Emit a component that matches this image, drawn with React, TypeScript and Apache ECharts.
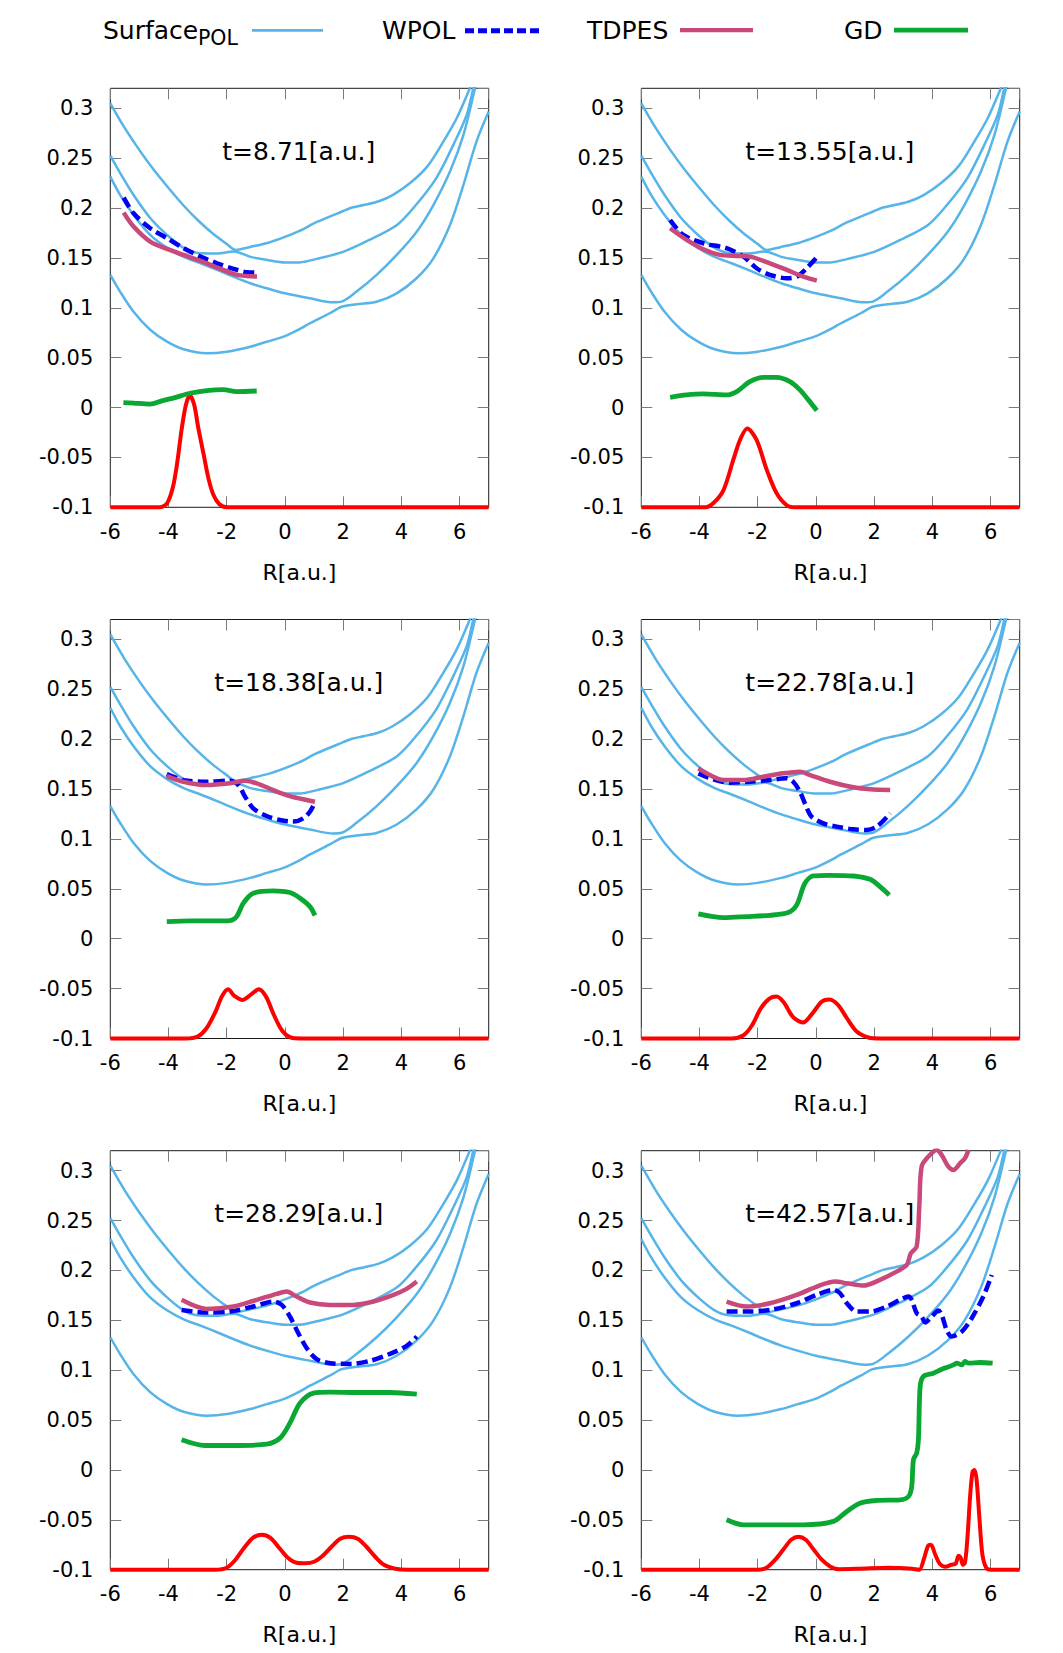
import React, { useEffect, useRef } from "react";
import * as echarts from "echarts";

type Pt = [number, number];

// ---------- tick / label data ----------
const xTickValues = [-6, -4, -2, 0, 2, 4, 6];
const yTickValues = [-0.1, -0.05, 0, 0.05, 0.1, 0.15, 0.2, 0.25, 0.3];
const panelTimes = [
  "t=8.71[a.u.]",
  "t=13.55[a.u.]",
  "t=18.38[a.u.]",
  "t=22.78[a.u.]",
  "t=28.29[a.u.]",
  "t=42.57[a.u.]",
];
const legendNames = ["Surface", "WPOL", "TDPES", "GD"];
const legendSub = "POL";
const xAxisTitle = "R[a.u.]";

// ---------- polaritonic surfaces (same in every panel) ----------
const surfaceA: Pt[] = [
  [-6, 0.305], [-5.5, 0.28], [-5, 0.258], [-4.5, 0.238], [-4, 0.22], [-3.5, 0.203],
  [-3, 0.188], [-2.5, 0.175], [-2, 0.164], [-1.7, 0.158], [-1.2, 0.161], [-0.6, 0.165],
  [0, 0.171], [0.5, 0.177], [1.1, 0.186], [2.0, 0.197], [2.3, 0.2005], [2.7, 0.203],
  [3.2, 0.2065], [3.7, 0.213], [4.3, 0.225], [4.9, 0.242], [5.45, 0.267], [5.9, 0.29],
  [6.35, 0.32], [6.5, 0.332],
];
const surfaceB: Pt[] = [
  [-6, 0.2525], [-5.66, 0.235], [-5.2, 0.213], [-4.63, 0.19], [-4.05, 0.173], [-3.48, 0.16],
  [-3.0, 0.155], [-2.33, 0.1545], [-1.75, 0.1565], [-1.19, 0.151], [-0.62, 0.148], [0, 0.1455],
  [0.5, 0.1455], [1.09, 0.149], [2.0, 0.156], [2.9, 0.168], [3.85, 0.183], [4.5, 0.203],
  [5.2, 0.23], [5.78, 0.263], [6.24, 0.293], [6.47, 0.32], [6.6, 0.335],
];
const surfaceC: Pt[] = [
  [-6, 0.2315], [-5.66, 0.213], [-5.2, 0.193], [-4.63, 0.173], [-4.05, 0.16], [-3.48, 0.151],
  [-2.9, 0.1446], [-2.33, 0.138], [-1.76, 0.131], [-1.19, 0.1246], [-0.62, 0.1195], [0, 0.1145],
  [0.86, 0.1095], [1.66, 0.1055], [1.95, 0.1062], [2.46, 0.1162], [3.15, 0.133], [3.84, 0.153],
  [4.52, 0.176], [5.1, 0.203], [5.67, 0.2365], [6.13, 0.273], [6.53, 0.32], [6.65, 0.335],
];
const surfaceD: Pt[] = [
  [-6, 0.133], [-5.66, 0.116], [-5.2, 0.096], [-4.63, 0.078], [-4.05, 0.066], [-3.48, 0.0584],
  [-2.68, 0.0544], [-2.0, 0.056], [-1.19, 0.061], [-0.62, 0.066], [0, 0.0715], [0.53, 0.079],
  [0.86, 0.0845], [1.54, 0.0945], [1.95, 0.101], [2.46, 0.1035], [3.15, 0.106], [3.84, 0.1145],
  [4.52, 0.1296], [5.1, 0.1496], [5.67, 0.183], [6.13, 0.223], [6.58, 0.2666], [7.0, 0.2967],
];

// ---------- panel 1 : t=8.71 ----------
const wpol1: Pt[] = [
  [-5.54, 0.2104], [-5.2, 0.1947], [-4.63, 0.1797], [-4.05, 0.1697], [-3.48, 0.1597],
  [-2.9, 0.1513], [-2.33, 0.1446], [-1.76, 0.139], [-1.3, 0.1356], [-0.96, 0.1353],
];
const tdpes1: Pt[] = [
  [-5.54, 0.1954], [-5.2, 0.1814], [-4.63, 0.1663], [-4.05, 0.159], [-3.48, 0.153],
  [-2.9, 0.147], [-2.33, 0.1403], [-1.65, 0.133], [-0.96, 0.1313],
];
const gd1: Pt[] = [
  [-5.55, 0.005], [-5.2, 0.0045], [-4.64, 0.0035], [-4.2, 0.007], [-3.84, 0.0095],
  [-3.26, 0.0143], [-2.69, 0.017], [-2.12, 0.018], [-1.66, 0.016], [-0.97, 0.0166],
];
const dens1: Pt[] = [
  [-6, -0.1], [-4.3, -0.1], [-4.05, -0.096], [-3.85, -0.08], [-3.7, -0.055], [-3.55, -0.022],
  [-3.4, 0.003], [-3.27, 0.012], [-3.12, 0.003], [-2.98, -0.02], [-2.8, -0.046],
  [-2.62, -0.072], [-2.45, -0.088], [-2.25, -0.097], [-2.0, -0.1], [7, -0.1],
];

// ---------- panel 2 : t=13.55 ----------
const wpol2: Pt[] = [
  [-5.01, 0.188], [-4.56, 0.173], [-3.87, 0.1647], [-3.07, 0.1597], [-2.49, 0.1513],
  [-2.04, 0.1396], [-1.58, 0.133], [-1.0, 0.1296], [-0.66, 0.1312], [-0.32, 0.1396], [0.0, 0.1496],
];
const tdpes2: Pt[] = [
  [-5.01, 0.1797], [-4.44, 0.168], [-3.87, 0.1586], [-3.3, 0.153], [-2.72, 0.152],
  [-2.27, 0.1513], [-1.58, 0.1446], [-1.0, 0.138], [-0.43, 0.1312], [0.03, 0.1272],
];
const gd2: Pt[] = [
  [-5.01, 0.0103], [-4.44, 0.0126], [-3.87, 0.0136], [-3.07, 0.0126], [-2.72, 0.016],
  [-2.27, 0.026], [-1.81, 0.0303], [-1.35, 0.0303], [-0.89, 0.026], [-0.55, 0.0177],
  [-0.26, 0.0077], [0.03, -0.003],
];
const dens2: Pt[] = [
  [-6, -0.1], [-3.8, -0.1], [-3.53, -0.096], [-3.18, -0.083], [-2.84, -0.0525], [-2.61, -0.0325],
  [-2.36, -0.021], [-2.04, -0.0325], [-1.69, -0.0625], [-1.35, -0.086], [-1.0, -0.098],
  [-0.7, -0.1], [7, -0.1],
];

// ---------- panel 3 : t=18.38 ----------
const wpol3: Pt[] = [
  [-4.06, 0.165], [-3.49, 0.159], [-2.69, 0.1574], [-1.89, 0.1584], [-1.6, 0.154],
  [-1.37, 0.1424], [-1.09, 0.1307], [-0.63, 0.123], [-0.17, 0.119], [0.29, 0.1174],
  [0.63, 0.1207], [0.86, 0.1274], [1.0, 0.135],
];
const tdpes3: Pt[] = [
  [-4.06, 0.163], [-3.49, 0.1574], [-2.69, 0.154], [-1.89, 0.1558], [-1.37, 0.1584],
  [-0.97, 0.1558], [-0.4, 0.149], [0.17, 0.143], [0.75, 0.139], [1.03, 0.1374],
];
const gd3: Pt[] = [
  [-4.06, 0.0172], [-3.26, 0.0179], [-2.46, 0.0179], [-1.89, 0.0182], [-1.66, 0.0222],
  [-1.43, 0.0356], [-1.09, 0.0456], [-0.4, 0.048], [0.17, 0.0463], [0.52, 0.0406],
  [0.86, 0.0322], [1.03, 0.0232],
];
const dens3: Pt[] = [
  [-6, -0.1], [-3.4, -0.1], [-3.0, -0.098], [-2.7, -0.09], [-2.4, -0.074], [-2.15, -0.057],
  [-1.95, -0.0506], [-1.75, -0.057], [-1.45, -0.0613], [-1.15, -0.0555], [-0.9, -0.0506],
  [-0.65, -0.058], [-0.4, -0.075], [-0.1, -0.092], [0.2, -0.099], [0.6, -0.1], [7, -0.1],
];

// ---------- panel 4 : t=22.78 ----------
const wpol4: Pt[] = [
  [-4.04, 0.1658], [-3.53, 0.1598], [-2.95, 0.1564], [-2.27, 0.1574], [-1.58, 0.1591],
  [-1.0, 0.1608], [-0.78, 0.1574], [-0.55, 0.1474], [-0.38, 0.1357], [-0.15, 0.1224],
  [0.25, 0.1157], [0.71, 0.1124], [1.28, 0.1097], [1.74, 0.109], [2.09, 0.1124], [2.55, 0.1257],
];
const tdpes4: Pt[] = [
  [-4.04, 0.1708], [-3.64, 0.1641], [-3.18, 0.1591], [-2.49, 0.1591], [-1.81, 0.1624],
  [-1.12, 0.1658], [-0.55, 0.1674], [-0.2, 0.1641], [0.48, 0.1574], [1.28, 0.1518],
  [1.86, 0.1498], [2.55, 0.1491],
];
const gd4: Pt[] = [
  [-4.04, 0.0249], [-3.18, 0.0212], [-2.38, 0.0222], [-1.58, 0.0235], [-0.95, 0.0262],
  [-0.66, 0.0339], [-0.38, 0.0556], [-0.09, 0.0629], [0.48, 0.0636], [1.28, 0.0629],
  [1.86, 0.0596], [2.2, 0.0523], [2.52, 0.0439],
];
const dens4: Pt[] = [
  [-6, -0.1], [-2.9, -0.1], [-2.5, -0.097], [-2.2, -0.087], [-1.9, -0.07], [-1.6, -0.06],
  [-1.35, -0.058], [-1.1, -0.064], [-0.8, -0.078], [-0.45, -0.084], [-0.1, -0.074],
  [0.2, -0.063], [0.45, -0.061], [0.75, -0.066], [1.05, -0.079], [1.4, -0.093],
  [1.8, -0.099], [2.2, -0.1], [7, -0.1],
];

// ---------- panel 5 : t=28.29 ----------
const wpol5: Pt[] = [
  [-3.55, 0.1604], [-2.69, 0.1578], [-1.89, 0.1588], [-1.09, 0.1638], [-0.4, 0.1688],
  [-0.11, 0.1654], [0.17, 0.1538], [0.46, 0.137], [0.75, 0.122], [1.09, 0.111],
  [1.55, 0.107], [2.24, 0.1063], [2.92, 0.1093], [3.61, 0.1164], [4.18, 0.1244], [4.53, 0.1337],
];
const tdpes5: Pt[] = [
  [-3.55, 0.1705], [-2.69, 0.1614], [-1.77, 0.1638], [-0.97, 0.1705], [-0.28, 0.1765],
  [0.06, 0.1788], [0.4, 0.1738], [0.86, 0.1678], [1.55, 0.1654], [2.35, 0.1654],
  [3.04, 0.1688], [3.73, 0.1755], [4.18, 0.1815], [4.53, 0.1888],
];
const gd5: Pt[] = [
  [-3.55, 0.0302], [-2.75, 0.0245], [-1.77, 0.0245], [-0.63, 0.0259], [-0.17, 0.0319],
  [0.17, 0.0469], [0.52, 0.067], [0.98, 0.077], [1.55, 0.078], [2.46, 0.0776],
  [3.61, 0.0776], [4.53, 0.076],
];
const dens5: Pt[] = [
  [-6, -0.1], [-2.4, -0.1], [-2.0, -0.098], [-1.7, -0.09], [-1.4, -0.078], [-1.1, -0.068],
  [-0.8, -0.065], [-0.5, -0.068], [-0.2, -0.078], [0.1, -0.088], [0.4, -0.093],
  [0.7, -0.0935], [1.0, -0.092], [1.3, -0.086], [1.6, -0.077], [1.9, -0.069], [2.2, -0.067],
  [2.5, -0.069], [2.8, -0.077], [3.1, -0.087], [3.4, -0.095], [3.8, -0.099], [4.2, -0.1], [7, -0.1],
];

// ---------- panel 6 : t=42.57 ----------
const wpol6: Pt[] = [
  [-3.07, 0.1588], [-2.38, 0.1588], [-1.58, 0.1604], [-0.66, 0.1671], [0.03, 0.1755],
  [0.6, 0.1805], [0.83, 0.1771], [1.06, 0.1671], [1.4, 0.1588], [1.86, 0.1588],
  [2.43, 0.1638], [2.89, 0.1705], [3.18, 0.1738], [3.29, 0.1705], [3.46, 0.1571],
  [3.63, 0.1538], [3.75, 0.1478], [3.98, 0.1538], [4.21, 0.1598], [4.32, 0.1554],
  [4.49, 0.1404], [4.66, 0.1337], [5.01, 0.1387], [5.35, 0.1521], [5.75, 0.1738], [6.04, 0.1955],
];
const tdpes6: Pt[] = [
  [-3.07, 0.1688], [-2.38, 0.1638], [-1.58, 0.1671], [-0.66, 0.1755], [0.03, 0.1838],
  [0.66, 0.1888], [1.06, 0.1871], [1.63, 0.1848], [2.2, 0.1905], [2.77, 0.1988],
  [3.12, 0.2055], [3.26, 0.2172], [3.46, 0.2239], [3.55, 0.264], [3.63, 0.304],
  [3.86, 0.314], [4.15, 0.3207], [4.32, 0.3157], [4.55, 0.304], [4.72, 0.3007],
  [4.95, 0.3073], [5.12, 0.3124], [5.24, 0.3207],
];
const gd6: Pt[] = [
  [-3.07, -0.05], [-2.5, -0.055], [-1.58, -0.055], [-0.43, -0.055], [0.6, -0.0516],
  [1.06, -0.0416], [1.51, -0.0333], [2.09, -0.0306], [2.89, -0.03], [3.18, -0.0266],
  [3.29, -0.0166], [3.35, 0.0104], [3.46, 0.0169], [3.52, 0.03], [3.58, 0.0836],
  [3.69, 0.0937], [4.03, 0.097], [4.32, 0.101], [4.49, 0.1027], [4.72, 0.1053],
  [4.84, 0.107], [5.01, 0.1053], [5.12, 0.1087], [5.24, 0.107], [5.64, 0.1077], [6.07, 0.107],
];
const dens6: Pt[] = [
  [-6, -0.1], [-2.0, -0.1], [-1.7, -0.098], [-1.4, -0.09], [-1.1, -0.079], [-0.85, -0.07],
  [-0.6, -0.067], [-0.35, -0.07], [-0.1, -0.079], [0.2, -0.09], [0.5, -0.097], [0.8, -0.0995],
  [1.5, -0.099], [2.5, -0.098], [3.0, -0.0985], [3.3, -0.099], [3.55, -0.1], [3.7, -0.09],
  [3.85, -0.076], [3.95, -0.075], [4.1, -0.085], [4.25, -0.094], [4.45, -0.097], [4.65, -0.095],
  [4.8, -0.094], [4.9, -0.086], [4.97, -0.088], [5.05, -0.095], [5.12, -0.093], [5.2, -0.07],
  [5.3, -0.025], [5.38, -0.002], [5.45, 0.0], [5.52, -0.01], [5.62, -0.05], [5.72, -0.085],
  [5.85, -0.098], [6.0, -0.1], [7, -0.1],
];

const wpolSets = [wpol1, wpol2, wpol3, wpol4, wpol5, wpol6];
const tdpesSets = [tdpes1, tdpes2, tdpes3, tdpes4, tdpes5, tdpes6];
const gdSets = [gd1, gd2, gd3, gd4, gd5, gd6];
const densSets = [dens1, dens2, dens3, dens4, dens5, dens6];
const surfaceSets = [surfaceA, surfaceB, surfaceC, surfaceD];

// ---------- styling ----------
const FONT = "'DejaVu Sans', 'Liberation Sans', sans-serif";
const C_SURF = "#56B4E9";
const C_WPOL = "#0000F5";
const C_TDPES = "#C8497A";
const C_GD = "#0AA832";
const C_DENS = "#FF0000";
const C_BORDER = "#1a1a1a";
const C_TICK = "#7a7a7a";

const COL_LEFT = [110.3, 641.3];
const ROW_TOP = [88.3, 619.5, 1150.7];
const GRID_W = 378.4;
const GRID_H = 419;
const X_MIN = -6;
const X_MAX = 7;
const Y_MIN = -0.1;
const Y_MAX = 0.32;

function buildOption() {
  const grids: any[] = [];
  const xAxes: any[] = [];
  const yAxes: any[] = [];
  const series: any[] = [];
  const graphics: any[] = [];

  const tickStyle = { show: true, inside: true, length: 11, lineStyle: { color: C_TICK, width: 1 } };
  const noLine = { show: false, onZero: false };

  for (let i = 0; i < 6; i++) {
    const left = COL_LEFT[i % 2];
    const top = ROW_TOP[Math.floor(i / 2)];
    grids.push({
      left, top, width: GRID_W, height: GRID_H,
      show: true, borderColor: C_BORDER, borderWidth: 1, backgroundColor: "transparent",
      containLabel: false, outerBoundsMode: "none",
    });
    // bottom x axis
    xAxes.push({
      type: "value", gridIndex: i, position: "bottom", min: X_MIN, max: X_MAX, interval: 2,
      axisLine: noLine, splitLine: { show: false }, axisTick: tickStyle,
      axisLabel: {
        show: true, fontSize: 21, fontFamily: FONT, color: "#000", margin: 14,
        showMaxLabel: false,
        formatter: (v: number) => (xTickValues.includes(Math.round(v)) && Math.abs(v - Math.round(v)) < 1e-6 ? String(Math.round(v)) : ""),
      },
      name: xAxisTitle, nameLocation: "middle", nameGap: 54,
      nameTextStyle: { fontSize: 22, fontFamily: FONT, color: "#000" },
    });
    // top mirror x axis
    xAxes.push({
      type: "value", gridIndex: i, position: "top", min: X_MIN, max: X_MAX, interval: 2,
      axisLine: noLine, splitLine: { show: false }, axisTick: tickStyle,
      axisLabel: { show: false },
    });
    // left y axis
    yAxes.push({
      type: "value", gridIndex: i, position: "left", min: Y_MIN, max: Y_MAX, interval: 0.05,
      axisLine: noLine, splitLine: { show: false }, axisTick: tickStyle,
      axisLabel: {
        show: true, fontSize: 21, fontFamily: FONT, color: "#000", margin: 17,
        showMaxLabel: false,
        formatter: (v: number) => {
          const hit = yTickValues.find((t) => Math.abs(t - v) < 1e-6);
          return hit === undefined ? "" : String(parseFloat(hit.toFixed(2)));
        },
      },
    });
    // right mirror y axis
    yAxes.push({
      type: "value", gridIndex: i, position: "right", min: Y_MIN, max: Y_MAX, interval: 0.05,
      axisLine: noLine, splitLine: { show: false }, axisTick: tickStyle,
      axisLabel: { show: false },
    });

    const xi = 2 * i;
    const yi = 2 * i;

    surfaceSets.forEach((s) => {
      series.push({
        type: "line", name: "Surface_POL", xAxisIndex: xi, yAxisIndex: yi, data: s,
        symbol: "none", showSymbol: false, smooth: 0.3, silent: true, z: 2,
        lineStyle: { color: C_SURF, width: 2.5 },
      });
    });
    series.push({
      type: "line", name: "density", xAxisIndex: xi, yAxisIndex: yi, data: densSets[i],
      symbol: "none", showSymbol: false, smooth: 0.3, silent: true, z: 3, clip: false,
      lineStyle: { color: C_DENS, width: 4 },
    });
    series.push({
      type: "line", name: "WPOL", xAxisIndex: xi, yAxisIndex: yi, data: wpolSets[i],
      symbol: "none", showSymbol: false, smooth: 0.3, silent: true, z: 4,
      lineStyle: { color: C_WPOL, width: 4.5, type: [11, 5] },
    });
    series.push({
      type: "line", name: "TDPES", xAxisIndex: xi, yAxisIndex: yi, data: tdpesSets[i],
      symbol: "none", showSymbol: false, smooth: 0.3, silent: true, z: 5,
      lineStyle: { color: C_TDPES, width: 4.5 },
    });
    series.push({
      type: "line", name: "GD", xAxisIndex: xi, yAxisIndex: yi, data: gdSets[i],
      symbol: "none", showSymbol: false, smooth: 0.3, silent: true, z: 6,
      lineStyle: { color: C_GD, width: 4.8 },
    });

    graphics.push({
      type: "text", x: left + 188.5, y: top + 63, z: 10,
      style: {
        text: panelTimes[i], fontSize: 25, fontFamily: FONT, fill: "#000",
        align: "center", verticalAlign: "middle",
      },
    });
  }

  // legend (drawn as graphic)
  const legText = (text: string, x: number, y: number, size: number) => ({
    type: "text", x, y, z: 10,
    style: { text, fontSize: size, fontFamily: FONT, fill: "#000", align: "left", verticalAlign: "middle" },
  });
  const legLine = (x1: number, x2: number, y: number, color: string, width: number, dash?: number[]) => ({
    type: "line", z: 10,
    shape: { x1, y1: y, x2, y2: y },
    style: { stroke: color, lineWidth: width, lineDash: dash || null },
  });
  graphics.push(legText(legendNames[0], 103, 30.2, 25));
  graphics.push(legText(legendSub, 198, 37.7, 20.5));
  graphics.push(legLine(252, 323, 30.3, C_SURF, 2.7));
  graphics.push(legText(legendNames[1], 382, 30.2, 25));
  graphics.push(legLine(465, 539, 30.7, C_WPOL, 5, [9, 4]));
  graphics.push(legText(legendNames[2], 587, 30.2, 25));
  graphics.push(legLine(680, 753, 30.2, C_TDPES, 4.3));
  graphics.push(legText(legendNames[3], 844, 30.2, 25));
  graphics.push(legLine(894, 968, 30.2, C_GD, 4.7));

  return {
    animation: false,
    backgroundColor: "#ffffff",
    grid: grids,
    xAxis: xAxes,
    yAxis: yAxes,
    series,
    graphic: graphics,
  };
}

export default function App() {
  const ref = useRef<HTMLDivElement>(null);
  useEffect(() => {
    if (!ref.current) return;
    const chart = echarts.init(ref.current, undefined, { renderer: "svg" });
    chart.setOption(buildOption() as any);
    return () => chart.dispose();
  }, []);
  return (
    <div
      ref={ref}
      style={{ position: "absolute", left: 0, top: 0, width: 1063, height: 1653, background: "#fff" }}
    />
  );
}
